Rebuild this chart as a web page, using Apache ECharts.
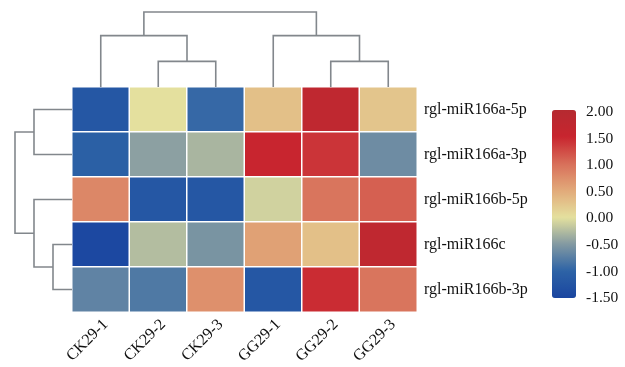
<!DOCTYPE html>
<html><head><meta charset="utf-8">
<script src="https://cdn.jsdelivr.net/npm/echarts@6/dist/echarts.min.js"></script>
<style>html,body{margin:0;padding:0;background:#fff}#c{width:625px;height:367px}</style>
</head><body><div id="c"></div>
<script>
// ---- data ----
const samples = ['CK29-1', 'CK29-2', 'CK29-3', 'GG29-1', 'GG29-2', 'GG29-3'];
const genes = ['rgl-miR166a-5p', 'rgl-miR166a-3p', 'rgl-miR166b-5p', 'rgl-miR166c', 'rgl-miR166b-3p'];
const row_a5p = [-1.20, 0.00, -0.95, 0.30, 1.75, 0.25];
const row_a3p = [-1.05, -0.45, -0.30, 1.50, 1.40, -0.62];
const row_b5p = [0.80, -1.20, -1.20, -0.10, 0.95, 1.10];
const row_c   = [-1.45, -0.25, -0.55, 0.58, 0.30, 1.75];
const row_b3p = [-0.70, -0.80, 0.72, -1.20, 1.45, 0.95];
const values = [row_a5p, row_a3p, row_b5p, row_c, row_b3p];
const scaleMin = -1.5, scaleMax = 2.0, scaleStep = 0.5;
// linkage: [nodeA, nodeB, height]; ids >= n refer to earlier merges
const colLinkage = [[1, 2, 1.0], [4, 5, 1.0], [0, 6, 2.0], [3, 7, 2.0], [8, 9, 2.92]];
const rowLinkage = [[0, 1, 2.0], [3, 4, 1.0], [2, 6, 2.0], [5, 7, 3.0]];
const palette = ['#1a45a0', '#2d63a6', '#8299a2', '#e4e09e', '#e2aa7a', '#d86f5a', '#c8252f', '#b52a30'];

// ---- build ----
function linkSegments(linkage, n) {
  const pos = [], hgt = [];
  for (let i = 0; i < n; i++) { pos.push(i + 0.5); hgt.push(0); }
  const segs = [];
  linkage.forEach(l => {
    const [a, b, h] = l;
    segs.push([pos[a], pos[b], hgt[a], hgt[b], h]);
    pos.push((pos[a] + pos[b]) / 2); hgt.push(h);
  });
  return segs;
}
const colSegs = linkSegments(colLinkage, samples.length);
const rowSegs = linkSegments(rowLinkage, genes.length);

const heatData = [];
values.forEach((row, r) => row.forEach((v, c) => heatData.push([c, r, v])));

const font = "'Liberation Serif', 'Times New Roman', serif";
const lineStyle = { stroke: '#82878c', lineWidth: 1.6, fill: null };

const chart = echarts.init(document.getElementById('c'));
chart.setOption({
  backgroundColor: '#fff',
  animation: false,
  grid: [
    { left: 72, top: 87, width: 345, height: 225 },   // heatmap
    { left: 72, top: 10, width: 345, height: 77 },    // column dendrogram
    { left: 15, top: 87, width: 57, height: 225 },    // row dendrogram
    { left: 552, top: 112, width: 24, height: 186 }   // color scale labels
  ],
  xAxis: [
    { type: 'category', gridIndex: 0, data: samples, position: 'bottom',
      axisLine: { show: false }, axisTick: { show: false }, splitArea: { show: false },
      axisLabel: { rotate: 45, margin: 15, padding: [0, -7, 0, 0], fontFamily: font, fontSize: 16, color: '#111' } },
    { type: 'value', gridIndex: 1, min: 0, max: samples.length, show: false },
    { type: 'value', gridIndex: 2, min: 0, max: 3, inverse: true, show: false },
    { type: 'value', gridIndex: 3, min: 0, max: 1, show: false }
  ],
  yAxis: [
    { type: 'category', gridIndex: 0, data: genes, inverse: true, position: 'right',
      axisLine: { show: false }, axisTick: { show: false }, splitArea: { show: false },
      axisLabel: { margin: 7, fontFamily: font, fontSize: 16, color: '#111' } },
    { type: 'value', gridIndex: 1, min: 0, max: 3, show: false },
    { type: 'value', gridIndex: 2, min: 0, max: genes.length, inverse: true, show: false },
    { type: 'value', gridIndex: 3, min: scaleMin, max: scaleMax, interval: scaleStep, position: 'right',
      axisLine: { show: false }, axisTick: { show: false }, splitLine: { show: false },
      axisLabel: { margin: 10, fontFamily: font, fontSize: 15.5, color: '#111',
        formatter: v => v.toFixed(2) } }
  ],
  visualMap: {
    type: 'continuous', min: scaleMin, max: scaleMax, seriesIndex: 0,
    left: 552, top: 110, itemWidth: 24, itemHeight: 188, padding: 0,
    calculable: false, text: null, showLabel: false,
    inRange: { color: palette }
  },
  series: [
    { type: 'heatmap', xAxisIndex: 0, yAxisIndex: 0, data: heatData,
      itemStyle: { borderColor: '#fff', borderWidth: 1.5 }, emphasis: { disabled: true } },
    { type: 'custom', xAxisIndex: 1, yAxisIndex: 1, clip: false, data: colSegs,
      renderItem: (p, api) => {
        const x1 = api.value(0), x2 = api.value(1), h1 = api.value(2), h2 = api.value(3), h = api.value(4);
        return { type: 'polyline', shape: { points: [api.coord([x1, h1]), api.coord([x1, h]), api.coord([x2, h]), api.coord([x2, h2])] }, style: lineStyle };
      } },
    { type: 'custom', xAxisIndex: 2, yAxisIndex: 2, clip: false, data: rowSegs,
      renderItem: (p, api) => {
        const y1 = api.value(0), y2 = api.value(1), h1 = api.value(2), h2 = api.value(3), h = api.value(4);
        return { type: 'polyline', shape: { points: [api.coord([h1, y1]), api.coord([h, y1]), api.coord([h, y2]), api.coord([h2, y2])] }, style: lineStyle };
      } }
  ]
});
</script>
</body></html>
